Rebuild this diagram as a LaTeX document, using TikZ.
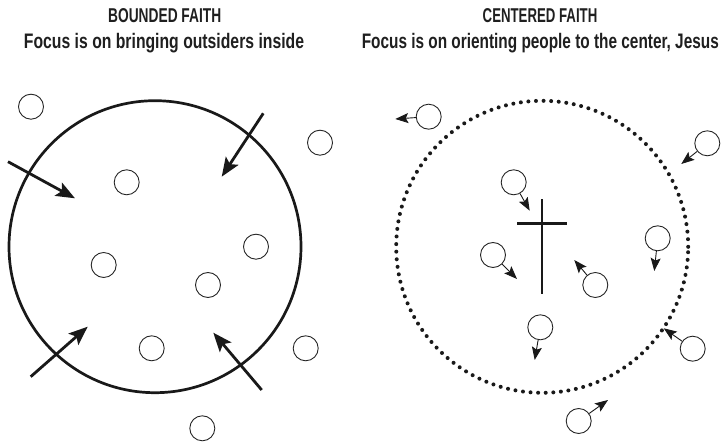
\documentclass[tikz,border=0pt]{standalone}
\usepackage{fontspec}
\usepackage{graphicx}
\usepackage{tikz}
\usetikzlibrary{arrows.meta}
\newfontfamily\capfont{Liberation Sans Bold}
% squeeze a line of text to a given width, height kept
\newcommand\fitto[2]{\resizebox{#1}{\height}{#2}}
\tikzset{
  pers/.style={circle,draw=black!85,line width=0.9pt,minimum size=25pt,inner sep=0pt},
  ring/.style={circle,draw=black!90,line width=2.7pt,minimum size=292pt,inner sep=0pt},
  dotring/.style={circle,draw=black!90,line width=4pt,line cap=round,dash pattern=on 0pt off 7.6pt,minimum size=292pt,inner sep=0pt},
  push/.style={-{Stealth[length=19pt,width=15pt,inset=4pt]},line width=2.8pt,black!90},
  tug/.style={-{Stealth[length=13pt,width=10pt,inset=2.5pt]},line width=0.9pt,black!90},
  head/.style={font=\capfont\fontsize{20}{22}\selectfont,text=black!88,inner sep=0pt,anchor=base},
  sub/.style={font=\capfont\fontsize{21}{23}\selectfont,text=black!88,inner sep=0pt,anchor=base},
}
\begin{document}
\begin{tikzpicture}[x=1pt,y=-1pt]
  \useasboundingbox (0,0) rectangle (723,443);
  % titles
  \node[head] (h1) at (164.7,22.5){\fitto{113pt}{BOUNDED FAITH}};
  \node[sub] (s1) at (164,49){\fitto{280pt}{Focus is on bringing outsiders inside}};
  \node[head] (h2) at (540,22.5){\fitto{114.6pt}{CENTERED FAITH}};
  \node[sub] (s2) at (540.3,49){\fitto{357pt}{Focus is on orienting people to the center, Jesus}};
  % bounded set
  \node[ring] (bound) at (155,246.7){};
  \foreach \n/\x/\y in {a/31/106.7, b/320/142.7, c/126.7/182.3, d/256/246.7, e/103.7/265,
                        f/208/285, g/151.7/348.3, h/305.7/348.3, i/202.3/428.3}{
    \node[pers] (b\n) at (\x,\y){};}
  \coordinate (p1) at (8,161.7);      \coordinate (q1) at (75,198.3);
  \coordinate (p2) at (263.3,113.3);  \coordinate (q2) at (221.7,176.7);
  \coordinate (p3) at (30.7,376.7);   \coordinate (q3) at (87.7,326.7);
  \coordinate (p4) at (261.7,390);    \coordinate (q4) at (213.3,332.7);
  \foreach \k in {1,...,4}{ \draw[push] (p\k) -- (q\k); }
  % centered set
  \node[dotring] (centre) at (542.2,246.8){};
  \coordinate (ctop) at (542,199.3); \coordinate (cbot) at (542,294.3);
  \coordinate (cl) at (517,223.3);   \coordinate (cr) at (567,223.3);
  \draw[line width=2.7pt,black!90] (ctop) -- (cbot); \draw[line width=2.7pt,black!90] (cl) -- (cr);
  \foreach \n/\x/\y/\tx/\ty in {a/428.7/116.7/395.3/119, b/707.3/143.3/681.3/164,
      c/513.7/182.3/529.7/210.7, d/493/255/517/279, e/657.7/238.3/654.3/271,
      f/595.3/285/574.3/260, g/540.3/327.3/534.7/360, h/692.7/348.7/663.7/328.3,
      i/578.7/421/608/400}{
    \node[pers] (c\n) at (\x,\y){};
    \coordinate (t\n) at (\tx,\ty);
    \draw[tug] (c\n) -- (t\n);}
\end{tikzpicture}
\end{document}
